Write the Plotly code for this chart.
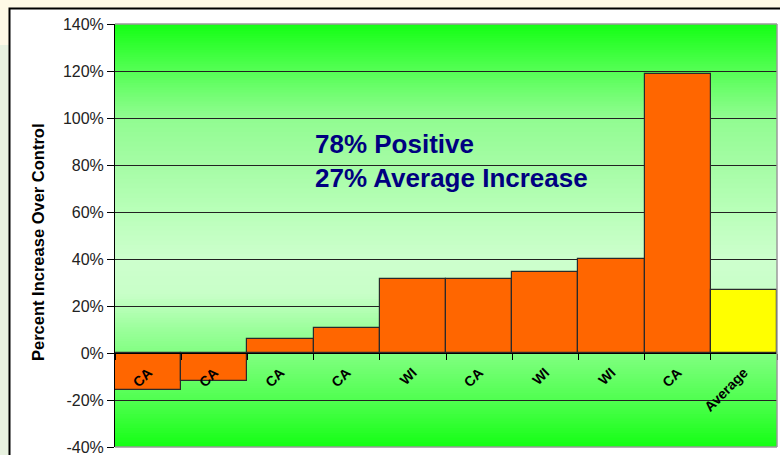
import plotly.graph_objects as go

# ---- data ----
bar_ids = ["b1", "b2", "b3", "b4", "b5", "b6", "b7", "b8", "b9", "b10"]
tick_labels = ["CA", "CA", "CA", "CA", "WI", "CA", "WI", "WI", "CA", "Average"]
pct_increase = [-15.7, -12.0, 6.0, 10.6, 31.5, 31.5, 34.3, 40.0, 118.7, 27.0]
bar_colors = ["#FF6600"] * 9 + ["#FFFF00"]
y_ticks = [-40, -20, 0, 20, 40, 60, 80, 100, 120, 140]
y_tick_text = ["%d%%" % t for t in y_ticks]
note_text = "78% Positive<br>27% Average Increase"
y_title = "Percent Increase Over Control"

FONT = "Arial, Liberation Sans, sans-serif"
W, H = 780, 455
L, R, T, B = 115, 3, 24, 8
pw, ph = W - L - R, H - T - B

def px_x(p):
    return (p - L) / pw

def px_y(p):
    return (H - B - p) / ph

fig = go.Figure()
fig.add_trace(go.Bar(
    x=bar_ids, y=pct_increase,
    marker=dict(color=bar_colors, line=dict(color="#2a2a2a", width=1.2)),
    width=1.0, showlegend=False, hoverinfo="skip",
))

shapes = []
shapes.append(dict(type="rect", xref="paper", yref="paper", x0=-0.3, x1=px_x(9), y0=-0.2, y1=px_y(45),
                   fillcolor="#E8F2E0", line=dict(width=0), layer="below"))
shapes.append(dict(type="rect", xref="paper", yref="paper", x0=px_x(9.5), x1=1.2, y0=-0.2, y1=px_y(8.5),
                   fillcolor="white", line=dict(color="black", width=2), layer="below"))

# gradient background (decoration)
stops = [(140, (20, 255, 20)), (120, (85, 255, 85)), (100, (145, 252, 145)), (80, (165, 252, 165)),
         (60, (185, 255, 185)), (40, (205, 255, 205)), (25, (200, 255, 200)), (10, (155, 255, 155)),
         (0, (130, 255, 130)), (-20, (80, 255, 80)), (-40, (20, 255, 20))]

def col(v):
    for (a, ca), (b, cb) in zip(stops[:-1], stops[1:]):
        if b <= v <= a:
            t = (a - v) / (a - b)
            c = [round(ca[i] + (cb[i] - ca[i]) * t) for i in range(3)]
            return "rgb(%d,%d,%d)" % tuple(c)
    return "rgb(20,255,20)"

step = 1.0
v = -40.0
while v < 140:
    top = min(v + 2 * step, 140)
    shapes.append(dict(type="rect", xref="paper", yref="y", x0=0, x1=1, y0=v, y1=top,
                       fillcolor=col(v + step / 2), line=dict(width=0), layer="below"))
    v += step

for (x0, y0, x1, y1) in [(0, 1, 1, 1), (1, 0, 1, 1), (0, 0, 1, 0)]:
    shapes.append(dict(type="line", xref="paper", yref="paper", x0=x0, y0=y0, x1=x1, y1=y1,
                       line=dict(color="#9a9a9a", width=1.5), layer="above"))

fig.update_layout(
    width=W, height=H,
    margin=dict(l=L, r=R, t=T, b=B, autoexpand=False),
    paper_bgcolor="#FEF9E6",
    plot_bgcolor="rgba(0,0,0,0)",
    bargap=0,
    shapes=shapes,
    xaxis=dict(
        type="category",
        tickmode="array", tickvals=bar_ids, ticktext=tick_labels,
        tickson="boundaries", ticks="outside", ticklen=6, tickcolor="black",
        tickangle=-45, tickfont=dict(family=FONT, size=14, color="black", weight="bold"),
        ticklabelstandoff=5,
        showline=True, linecolor="black", linewidth=1,
        showgrid=False, anchor="free", position=40 / 180,
        range=[-0.5, 9.5], automargin=False, fixedrange=True,
    ),
    yaxis=dict(
        range=[-40, 140], tickmode="array", tickvals=y_ticks, ticktext=y_tick_text,
        ticks="outside", ticklen=7, tickcolor="black",
        tickfont=dict(family=FONT, size=16, color="#222"),
        ticklabeloverflow="allow",
        showline=True, linecolor="black", linewidth=1,
        showgrid=True, gridcolor="#222", gridwidth=1,
        zeroline=False, automargin=False,
    ),
    annotations=[
        dict(text=note_text, xref="paper", yref="paper", x=px_x(313), y=px_y(161),
             xanchor="left", yanchor="middle", align="left", showarrow=False,
             font=dict(family=FONT, size=26, color="#000080", weight="bold")),
        dict(text=y_title, xref="paper", yref="paper", x=px_x(38), y=px_y(242),
             xanchor="center", yanchor="middle", textangle=-90, showarrow=False,
             font=dict(family=FONT, size=16.5, color="black", weight="bold")),
    ],
)

fig.write_html("out.html", config={"displayModeBar": False},
               post_script="document.body.style.margin='0';document.body.style.overflow='hidden';")
